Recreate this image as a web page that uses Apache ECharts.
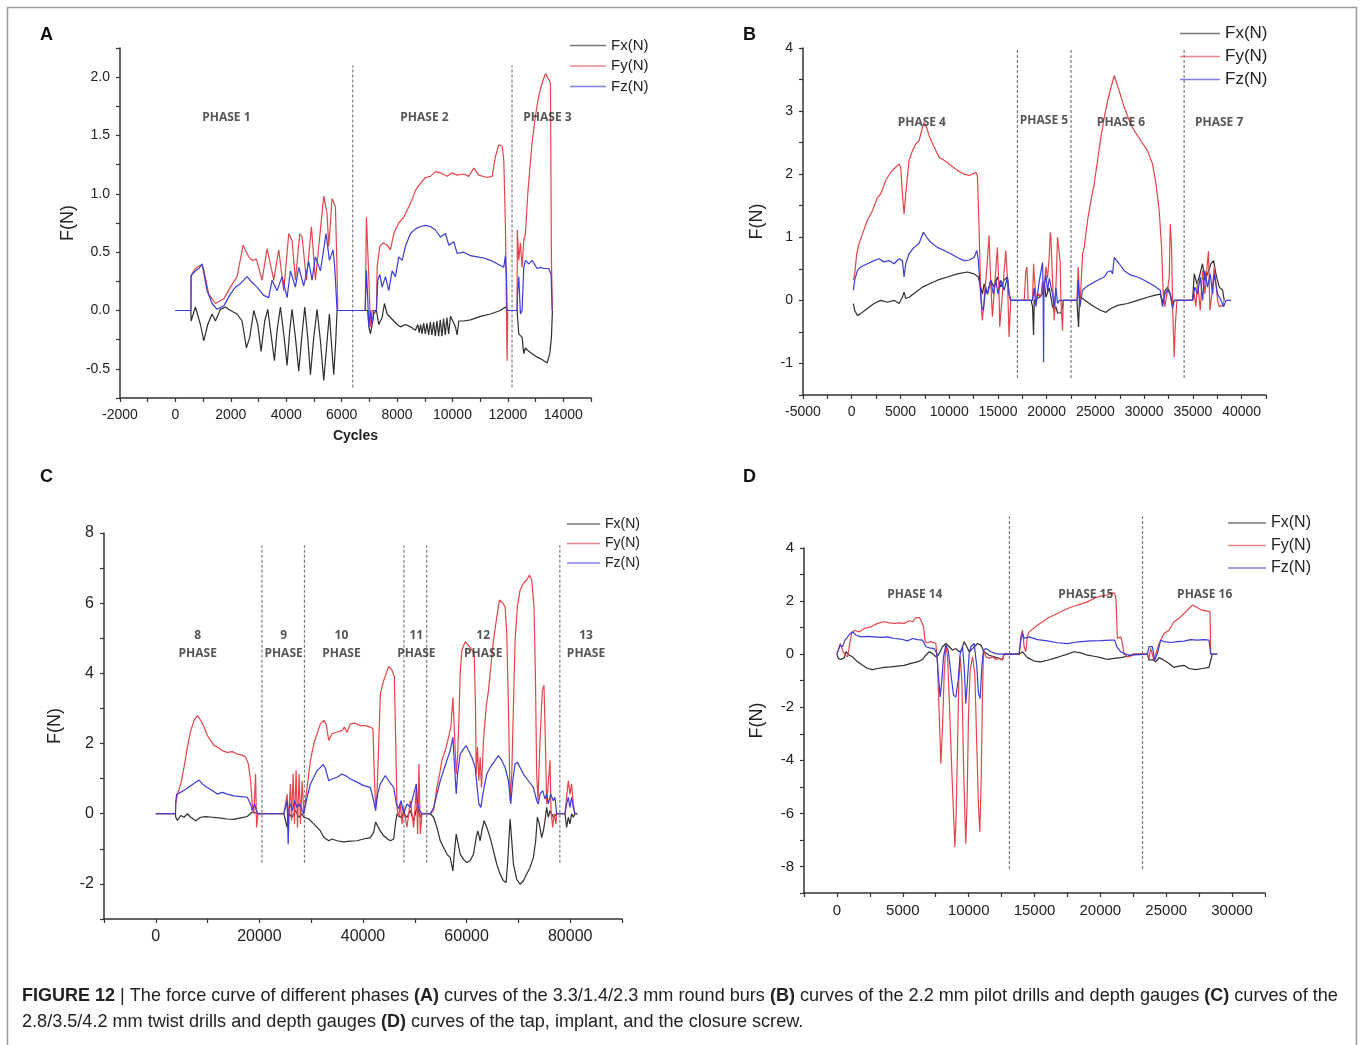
<!DOCTYPE html>
<html>
<head>
<meta charset="utf-8">
<script src="https://cdn.jsdelivr.net/npm/echarts@6/dist/echarts.min.js"></script>
<style>
  html, body { margin: 0; padding: 0; background: #fff; }
  #chart { width: 1360px; height: 1045px; }
</style>
</head>
<body>
<div id="chart"></div>
<script>
// ---- panel A : round burs ----
var aFx = [[0,0],[560,0],[566,-0.09],[722,0.03],[903,-0.12],[1023,-0.26],[1167,-0.12],[1324,-0.03],[1444,-0.09],[1625,0.01],[1805,0.03],[1985,0.0],[2226,-0.03],[2406,-0.09],[2563,-0.32],[2683,-0.23],[2828,0.0],[2972,-0.12],[3092,-0.35],[3224,-0.09],[3333,0.01],[3465,-0.23],[3574,-0.43],[3670,-0.17],[3790,0.03],[3910,-0.20],[4031,-0.47],[4127,-0.17],[4211,0.01],[4331,-0.23],[4452,-0.52],[4572,-0.20],[4668,0.03],[4776,-0.23],[4873,-0.55],[4993,-0.23],[5113,0.01],[5234,-0.26],[5354,-0.60],[5474,-0.26],[5558,-0.03],[5643,-0.32],[5715,-0.55],[5787,-0.26],[5835,0],
  [6943,0],[6980,-0.14],[7040,-0.20],[7100,-0.12],[7160,-0.03],[7256,0],[7340,-0.12],[7461,-0.06],[7545,0.06],[7641,-0.03],[7762,-0.06],[7882,-0.09],[8002,-0.12],[8122,-0.14],[8303,-0.12],[8483,-0.14],[8664,-0.17],[8750,-0.12],[8800,-0.19],[8850,-0.12],[8900,-0.20],[8960,-0.11],[9020,-0.20],[9080,-0.11],[9140,-0.21],[9200,-0.10],[9260,-0.21],[9320,-0.10],[9380,-0.22],[9440,-0.09],[9500,-0.22],[9560,-0.08],[9620,-0.22],[9680,-0.07],[9740,-0.21],[9800,-0.06],[9860,-0.20],[9930,-0.05],[9987,-0.06],[10107,-0.14],[10168,-0.21],[10228,-0.09],[10408,-0.09],[10649,-0.08],[11010,-0.05],[11371,-0.03],[11731,0],[11912,0.03],[11972,0.02],[12000,0],
  [12333,0],[12393,-0.20],[12513,-0.23],[12574,-0.37],[12634,-0.32],[12754,-0.35],[12874,-0.37],[13055,-0.40],[13235,-0.42],[13415,-0.45],[13512,-0.37],[13572,-0.23],[13608,0]];
var aFy = [[0,0],[560,0],[566,0.30],[722,0.36],[850,0.38],[963,0.39],[1023,0.35],[1203,0.14],[1444,0.06],[1745,0.10],[1985,0.20],[2226,0.29],[2443,0.56],[2647,0.46],[2767,0.43],[2924,0.44],[3128,0.26],[3309,0.53],[3549,0.26],[3730,0.52],[3910,0.17],[4091,0.66],[4211,0.60],[4331,0.26],[4488,0.66],[4572,0.63],[4728,0.26],[4909,0.72],[5053,0.26],[5354,0.98],[5474,0.83],[5534,0.55],[5656,0.96],[5775,0.89],[5835,0.34],[5859,0],
  [6850,0],[6895,0.80],[6980,0.29],[7040,-0.14],[7100,0],[7256,0],[7280,0.37],[7377,0.55],[7497,0.58],[7641,0.56],[7762,0.52],[7882,0.66],[8062,0.75],[8243,0.80],[8423,0.89],[8543,0.95],[8664,1.03],[8844,1.09],[9025,1.14],[9205,1.15],[9386,1.19],[9566,1.18],[9807,1.15],[9987,1.18],[10168,1.16],[10408,1.17],[10589,1.15],[10769,1.22],[10949,1.16],[11250,1.14],[11431,1.15],[11551,1.32],[11671,1.42],[11792,1.41],[11852,1.29],[11912,0.72],[11948,0],[11972,-0.43],[11996,0],
  [12333,0],[12340,0.69],[12393,0.43],[12453,0.58],[12513,0.37],[12574,0.60],[12634,0.66],[12718,1.0],[12790,1.21],[12874,1.44],[12995,1.67],[13115,1.84],[13235,1.95],[13355,2.03],[13476,1.98],[13536,1.95],[13572,0.43],[13608,0]];
var aFz = [[0,0],[560,0],[566,0.30],[722,0.34],[850,0.36],[963,0.40],[1143,0.17],[1324,0.06],[1504,0.01],[1745,0.04],[1985,0.14],[2166,0.20],[2346,0.23],[2587,0.29],[2767,0.24],[2948,0.20],[3188,0.13],[3369,0.11],[3489,0.26],[3670,0.17],[3850,0.29],[4031,0.11],[4151,0.34],[4331,0.20],[4452,0.37],[4632,0.21],[4812,0.42],[4933,0.26],[5053,0.46],[5234,0.34],[5438,0.66],[5558,0.43],[5690,0.52],[5751,0.37],[5835,0],
  [6850,0],[6895,0.34],[6943,0.09],[6980,-0.14],[7040,0],[7100,-0.12],[7160,0],[7256,0],[7304,0.26],[7377,0.31],[7461,0.20],[7581,0.29],[7701,0.17],[7822,0.34],[7942,0.29],[8062,0.46],[8183,0.43],[8303,0.55],[8483,0.66],[8664,0.70],[8844,0.72],[9025,0.73],[9205,0.72],[9386,0.69],[9566,0.63],[9746,0.66],[9867,0.56],[10047,0.59],[10168,0.49],[10408,0.50],[10649,0.47],[10889,0.46],[11130,0.45],[11371,0.43],[11611,0.40],[11852,0.37],[11912,0.47],[11948,0.31],[11972,0],
  [12333,0],[12345,0.14],[12393,0.29],[12453,-0.03],[12513,0],[12574,0.37],[12634,0.43],[12754,0.40],[12874,0.43],[13055,0.36],[13175,0.37],[13295,0.36],[13476,0.36],[13560,0.31],[13596,0]];
var aPhaseLines = [6400, 12150];
var aLineSpan = [-0.66, 2.1];
var aPhaseLabels = [[1841, 1.655, 'PHASE 1'], [8989, 1.655, 'PHASE 2'], [13429, 1.655, 'PHASE 3']];

// ---- panel B : pilot drills ----
var bFx = [[170,-0.05],[306,-0.16],[580,-0.24],[922,-0.21],[1606,-0.13],[2290,-0.05],[2974,0],[3658,-0.03],[4342,0],[4855,-0.05],[5197,0.05],[5368,0.13],[5539,0.03],[5881,0.05],[6565,0.13],[7249,0.21],[7933,0.26],[8788,0.32],[9814,0.37],[10840,0.42],[11866,0.45],[12550,0.42],[12995,0.37],[13234,0.21],[13405,0.10],[13576,0.26],[13918,0.10],[14260,0.32],[14602,0.21],[14944,0.37],[15286,0.21],[15628,0.32],[15970,0.37],[16141,0.10],[16312,0],
  [18400,0],[18551,-0.1],[18654,-0.55],[18722,0],[19235,0.05],[19577,0.1],[19748,0.3],[19919,0.05],[20261,0.2],[20603,-0.1],[20774,-0.15],[20945,-0.1],[21116,-0.2],[21458,-0.2],[21629,-0.1],[21700,0],[23100,0],
  [23271,-0.42],[23373,0.05],[23681,0.03],[24194,-0.03],[24878,-0.10],[25562,-0.16],[26075,-0.19],[26588,-0.13],[27272,-0.08],[28298,-0.05],[29324,0],[30350,0.05],[31034,0.08],[31650,0.10],[31889,-0.05],[32060,0.13],[32402,0.21],[32676,0.10],[32915,-0.08],[33086,0],[34967,0],
  [35138,0.42],[35412,0.26],[35651,0.37],[35993,0.58],[36232,0.32],[36506,0.42],[36848,0.58],[37122,0.63],[37361,0.42],[37703,0.21],[38045,0.16],[38216,0]];
var bFy = [[170,0.32],[306,0.42],[512,0.74],[751,0.90],[1093,1.05],[1606,1.27],[2119,1.42],[2632,1.63],[2974,1.69],[3487,1.90],[4000,2.03],[4513,2.11],[4855,2.16],[5026,2.11],[5197,1.69],[5368,1.37],[5539,1.69],[5881,2.22],[6223,2.37],[6565,2.48],[6907,2.53],[7249,2.74],[7420,2.82],[7694,2.74],[7933,2.61],[8446,2.43],[8959,2.27],[9472,2.22],[10156,2.14],[10840,2.06],[11524,2.0],[12037,1.98],[12379,2.0],[12721,2.03],[12892,1.98],[13063,1.16],[13234,0.10],[13405,-0.32],[13576,0],[13918,0.63],[14089,1.03],[14260,0.3],[14431,-0.26],[14602,0.1],[14944,0.84],[15100,0.2],[15183,-0.42],[15457,0.1],[15799,0.79],[15970,0.37],[16141,-0.58],[16312,0],
  [17696,0],[17850,0.45],[17970,0.53],[18106,0],[18551,0],[18654,0.58],[18722,0.4],[18893,0.05],[19235,0.1],[19406,0.05],[19577,0.3],[19680,0.1],[19919,0.53],[20090,0.35],[20261,0.7],[20364,1.08],[20432,1.0],[20603,0.3],[20774,-0.32],[20945,0.2],[21116,1.0],[21287,1.0],[21390,0.6],[21458,0],[21629,-0.48],[21700,0],[23100,0],
  [23236,0.53],[23407,-0.10],[23681,0.74],[23852,0.84],[24194,1.27],[24536,1.58],[24878,1.85],[25220,2.22],[25562,2.58],[25904,2.90],[26246,3.16],[26588,3.37],[26930,3.56],[27443,3.32],[27956,3.06],[28469,2.85],[28982,2.69],[29666,2.53],[30350,2.37],[30863,2.16],[31205,1.85],[31547,1.42],[31786,0.84],[31957,0.10],[32128,-0.10],[32334,0.10],[32573,0.37],[32676,1.21],[32812,0.84],[32915,-0.10],[33086,-0.90],[33189,-0.42],[33360,0],[34967,0],
  [35138,0.1],[35309,-0.10],[35480,0.32],[35754,-0.16],[35993,0.47],[36232,0.10],[36506,0.63],[36600,0.78],[36745,-0.16],[36951,0.10],[37190,0.53],[37532,0],[37703,-0.10],[38045,-0.08],[38216,0]];
var bFz = [[170,0.16],[306,0.32],[580,0.47],[922,0.53],[1606,0.58],[2290,0.63],[2803,0.66],[3316,0.61],[3829,0.63],[4342,0.58],[4855,0.66],[5197,0.63],[5368,0.37],[5539,0.58],[5881,0.74],[6394,0.84],[6907,0.90],[7352,1.08],[7694,1.0],[8104,0.92],[8788,0.84],[9472,0.79],[10156,0.74],[10840,0.68],[11524,0.63],[12037,0.64],[12550,0.68],[12824,0.79],[12995,0.63],[13166,0.21],[13337,-0.10],[13508,-0.16],[13747,0.21],[13918,0.10],[14260,0.32],[14534,0.10],[14773,0.32],[15012,0.10],[15286,0.32],[15628,0.16],[15970,0.37],[16141,0.10],[16312,0],
  [18551,0],[18722,0.2],[18893,-0.1],[19235,0.3],[19406,0.45],[19577,0.6],[19640,0.1],[19680,-0.98],[19720,0.2],[19919,0.4],[20090,0.15],[20261,0.35],[20603,0.1],[20774,-0.1],[20945,0.2],[21116,-0.05],[21300,0],[23100,0],
  [23168,0.05],[23236,0.32],[23407,-0.10],[23681,0.16],[24023,0.21],[24536,0.26],[25220,0.32],[25904,0.37],[26246,0.45],[26588,0.47],[26759,0.42],[26930,0.68],[27443,0.58],[27956,0.47],[28640,0.40],[29324,0.37],[30008,0.32],[30692,0.26],[31205,0.21],[31650,0.16],[31889,-0.10],[32128,0.10],[32402,0.16],[32676,0.10],[32915,-0.13],[33086,0],[34967,0],
  [35206,0.21],[35480,0.10],[35754,0.37],[35993,0],[36232,0.47],[36506,0.21],[36779,0.42],[37019,0.10],[37190,0.42],[37532,0.10],[37874,0],[38148,-0.10],[38400,0],[38900,0]];
var bPhaseLines = [17000, 22500, 34100];
var bLineSpan = [-1.23, 4.0];
var bPhaseLabels = [[7189, 2.82, 'PHASE 4'], [19718, 2.85, 'PHASE 5'], [27626, 2.82, 'PHASE 6'], [37691, 2.82, 'PHASE 7']];

// ---- panel C : twist drills ----
var cFx = [[0,0],[3800,0],[3852,-0.1],[4173,-0.19],[4815,-0.05],[5457,-0.1],[6099,0],[6741,-0.1],[7704,-0.2],[8667,-0.1],[9630,-0.08],[10914,-0.1],[12198,-0.12],[13803,-0.15],[15087,-0.16],[16371,-0.12],[17655,-0.08],[18618,0.05],[19710,0],
  [24717,0],[25359,-0.39],[25680,0],[26322,-0.1],[26964,0.09],[27606,-0.1],[28248,0],[28569,-0.1],[28890,-0.1],[29532,-0.15],[30495,-0.29],[31137,-0.39],[31779,-0.49],[32421,-0.67],[32742,-0.63],[33384,-0.77],[34026,-0.72],[34989,-0.77],[36273,-0.8],[37557,-0.78],[38841,-0.77],[40125,-0.72],[41409,-0.68],[42051,-0.53],[42435,-0.24],[42821,-0.29],[43335,-0.49],[44000,-0.63],[44748,-0.72],[45284,-0.77],[45926,-0.72],[46247,-0.3],[46568,0],[47210,-0.1],[47852,0],[48494,-0.1],[49136,0.09],[49778,-0.2],[50420,0.2],[51062,-0.1],[51383,0],[52988,0],
  [53630,-0.1],[54272,-0.39],[54914,-0.77],[55556,-0.96],[56198,-1.15],[56840,-1.25],[57354,-1.63],[57610,-1.15],[57996,-0.58],[58252,-0.77],[58766,-1.15],[59408,-1.30],[60050,-1.39],[60692,-1.34],[61334,-1.15],[61848,-0.68],[62169,-0.49],[62618,-0.77],[62939,-0.49],[63388,-0.2],[63902,-0.39],[64544,-0.68],[65186,-1.06],[65828,-1.44],[66470,-1.72],[67112,-1.91],[67626,-1.96],[67947,-1.34],[68396,-0.15],[68717,-0.77],[69038,-1.44],[69680,-1.87],[70322,-2.01],[70964,-1.91],[71606,-1.72],[72248,-1.53],[72890,-1.25],[73339,-0.77],[73660,-0.1],[74046,-0.29],[74495,-0.68],[74816,-0.49],[75137,-0.2],[75458,0.18],[75779,-0.1],[76100,0.09],[76742,-0.1],[77384,0],[78989,0],
  [79310,-0.39],[79631,-0.1],[79952,-0.29],[80273,0],[80594,-0.1],[80915,0],[81400,0]];
var cFy = [[0,0],[3800,0],[3852,0.28],[4173,0.56],[4815,0.85],[5457,1.33],[6099,1.90],[6741,2.37],[7383,2.66],[8025,2.80],[8667,2.66],[9309,2.47],[9951,2.23],[10593,2.09],[11235,1.94],[11877,1.90],[12840,1.80],[13803,1.75],[14766,1.77],[15729,1.70],[16692,1.67],[17334,1.61],[17848,1.43],[18297,0.95],[18618,0.28],[18939,0],[19260,1.14],[19453,-0.39],[19710,0],
  [24717,0],[25038,0],[25359,0.56],[25552,-0.29],[26001,0.85],[26193,-0.2],[26514,1.14],[26771,-0.29],[27092,1.24],[27349,-0.39],[27670,1.13],[27927,-0.29],[28248,0.94],[28569,0],[28890,0],[29211,0.75],[29853,1.52],[30495,1.99],[31137,2.28],[31779,2.56],[32421,2.66],[32870,2.56],[33384,2.09],[34026,2.28],[34989,2.33],[35952,2.37],[36401,2.47],[36915,2.32],[37557,2.56],[38520,2.58],[39483,2.51],[40446,2.51],[41409,2.47],[41923,2.42],[42179,1.13],[42435,0.18],[42693,0.56],[43014,1.90],[43358,3.42],[44000,3.80],[44963,4.20],[45605,4.09],[46054,3.90],[46311,2.09],[46568,0.18],[46889,-0.1],[47210,0.28],[47531,-0.29],[47852,0.18],[48494,-0.39],[49136,0.37],[49778,-0.39],[50292,0.75],[50548,-0.58],[50805,1.42],[51062,-0.58],[51383,0],[52988,0],
  [53630,0.09],[54272,0.75],[54786,1.13],[55235,1.52],[55877,1.80],[56519,2.18],[56968,2.47],[57354,3.32],[57610,2.47],[57996,1.13],[58252,1.61],[58509,2.66],[58766,4.0],[59087,4.66],[59729,4.9],[60371,4.8],[61013,4.66],[61462,4.56],[61719,3.04],[61848,1.13],[62104,1.90],[62361,0.94],[62618,1.61],[62875,0.75],[63260,2.09],[63774,3.04],[64223,3.51],[64672,4.18],[65186,4.94],[65828,5.61],[66342,6.09],[66984,6.0],[67433,5.9],[67754,5.13],[68075,3.04],[68396,0.37],[68717,1.13],[69038,3.04],[69359,4.94],[69808,5.9],[70322,6.37],[70964,6.56],[71606,6.66],[72120,6.8],[72569,6.66],[73018,5.9],[73275,4.0],[73532,1.13],[73789,0.37],[74174,2.09],[74623,3.51],[74944,3.66],[75201,2.09],[75458,0.28],[75779,0.28],[76100,1.52],[76292,0.09],[76614,-0.39],[76870,0],[77254,-0.29],[77384,0],[78989,0],
  [79310,0.47],[79631,0.94],[79952,0.56],[80273,0.85],[80594,0.28],[80915,0],[81400,0]];
var cFz = [[0,0],[3800,0],[3852,0.37],[4045,0.56],[4815,0.61],[5778,0.70],[6741,0.80],[7704,0.90],[8346,0.96],[8988,0.85],[9951,0.75],[10914,0.66],[11877,0.56],[12840,0.61],[13803,0.56],[15087,0.51],[16371,0.49],[17655,0.47],[18297,0.28],[18618,0.09],[19067,0.28],[19453,0.09],[19710,0],
  [24717,0],[25038,0],[25359,0.37],[25552,-0.87],[25744,0.18],[26001,0.28],[26386,0.09],[26771,0.37],[27285,0.18],[27799,0.28],[28248,0.09],[28569,0],[28890,0],[29211,0.47],[29853,0.85],[30495,1.04],[31137,1.23],[31779,1.32],[32293,1.40],[32742,1.29],[33384,0.94],[34026,0.99],[34989,1.04],[35952,1.13],[36594,1.09],[37557,0.99],[38841,0.90],[40125,0.80],[41409,0.75],[42051,0.37],[42435,0.09],[42821,0.56],[43335,0.85],[44321,1.09],[44963,0.94],[45926,0.75],[46440,0.28],[46889,0.14],[47338,0.37],[47852,0],[48494,0.28],[49136,0.18],[49778,0.56],[50292,0.85],[50548,0.28],[50934,0.09],[51383,0],[52988,0],
  [53630,0.18],[54272,0.56],[54914,0.94],[55556,1.23],[56198,1.52],[56840,1.80],[57354,2.18],[57610,1.52],[57996,0.56],[58252,1.13],[58766,1.70],[59408,1.85],[59922,1.94],[60371,1.80],[61013,1.61],[61655,1.32],[61976,0.85],[62361,0.28],[62746,0.18],[63260,0.66],[63902,1.13],[64544,1.32],[65507,1.52],[66149,1.66],[66791,1.52],[67433,1.32],[68075,0.94],[68524,0.28],[68910,0.94],[69359,1.42],[69808,1.47],[70322,1.32],[70964,1.13],[71927,0.94],[72890,0.75],[73532,0.37],[73853,0.28],[74174,0.56],[74688,0.66],[75137,0.42],[75458,0.56],[75779,0.28],[76228,0.56],[76742,0.37],[77063,0.47],[77384,0],[78989,0],
  [79310,0.28],[79631,0.47],[79952,0.18],[80273,0.47],[80594,0.18],[80915,0],[81400,0]];
var cPhaseLines = [20500, 28700, 47900, 52300, 78000];
var cLineSpan = [-1.4, 7.65];
var cPhaseLabels = [[8093, 4.83, '8\nPHASE'], [24666, 4.83, '9\nPHASE'], [35842, 4.83, '10\nPHASE'], [50295, 4.83, '11\nPHASE'], [63206, 4.83, '12\nPHASE'], [83054, 4.83, '13\nPHASE']];

// ---- panel D : tap, implant, closure screw ----
var dFx = [[0,0],[101,-0.16],[304,-0.20],[557,-0.13],[683,0.09],[936,-0.04],[1189,-0.10],[1568,-0.29],[1948,-0.42],[2327,-0.54],[2706,-0.58],[3086,-0.54],[3591,-0.50],[4097,-0.48],[4603,-0.45],[5109,-0.42],[5615,-0.35],[6120,-0.29],[6500,-0.20],[6753,-0.04],[7006,0.09],[7258,0.02],[7511,-0.10],[7688,-0.04],[8017,0.28],[8270,0.40],[8523,0.28],[8776,0.15],[9029,0.21],[9282,0.09],[9458,0.15],[9661,0.47],[9863,0.28],[10040,0.09],[10293,0.21],[10673,0.40],[10926,0.34],[11178,0.09],[11558,-0.04],[11937,-0.10],[12316,-0.16],[12569,-0.20],[12696,0],[13834,0],
  [14087,0.09],[14466,-0.13],[14972,-0.26],[15478,-0.29],[15984,-0.23],[16488,-0.16],[16995,-0.08],[17501,0],[18007,0.09],[18513,0.05],[19018,-0.04],[19524,-0.08],[20030,-0.13],[20536,-0.20],[21042,-0.16],[21548,-0.13],[22053,-0.08],[22306,-0.04],[22500,0],[23571,0],
  [23697,-0.23],[23950,-0.20],[24203,-0.29],[24456,-0.13],[24835,-0.23],[25214,-0.35],[25594,-0.50],[25973,-0.45],[26352,-0.42],[26732,-0.54],[27238,-0.58],[27743,-0.54],[28249,-0.50],[28376,-0.23],[28500,0]];
var dFy = [[0,0],[51,0],[101,0.02],[253,0.40],[430,0.15],[607,-0.04],[810,-0.10],[936,0.28],[1113,0.78],[1315,0.90],[1695,0.84],[2074,0.97],[2580,1.03],[3086,1.16],[3591,1.22],[3971,1.18],[4350,1.16],[4729,1.18],[5109,1.16],[5488,1.26],[5741,1.22],[5994,1.38],[6247,1.38],[6373,1.28],[6576,1.03],[6702,0.47],[6879,0.43],[7132,0.47],[7511,0.40],[7638,-0.35],[7764,-2.24],[7891,-4.13],[8017,-2.74],[8144,-0.73],[8270,0.34],[8397,-0.10],[8523,-1.61],[8700,-4.13],[8852,-6.01],[8953,-7.27],[9054,-6.01],[9155,-3.50],[9256,-0.98],[9357,-0.10],[9484,-0.98],[9610,-4.13],[9711,-6.01],[9787,-7.14],[9888,-5.38],[9990,-2.24],[10116,-0.60],[10293,-0.10],[10470,-0.73],[10622,-3.50],[10748,-5.76],[10849,-6.70],[10951,-4.76],[11052,-1.48],[11128,0.15],[11305,-0.10],[11558,-0.16],[11811,-0.10],[12064,-0.20],[12316,-0.16],[12569,-0.23],[12696,0],[13834,0],
  [13960,0.65],[14087,0.90],[14213,0.28],[14340,0.09],[14466,0.70],[14593,0.84],[15225,1.09],[15984,1.35],[16742,1.53],[17501,1.72],[18260,1.85],[19018,1.97],[19524,2.10],[20030,2.19],[20536,2.23],[20915,2.31],[21092,2.29],[21193,2.04],[21294,0.59],[21548,0.65],[21674,0.40],[21800,0],[22053,-0.10],[22306,-0.08],[22500,0],[23571,0],
  [23697,-0.16],[23824,0.21],[24077,-0.23],[24203,0],[24456,0.40],[24835,0.78],[25214,0.90],[25594,1.22],[25973,1.35],[26352,1.53],[26732,1.72],[26985,1.85],[27238,1.79],[27617,1.68],[27996,1.63],[28325,1.60],[28376,0],[28880,0]];
var dFz = [[0,0],[101,0],[253,0.34],[430,0.28],[607,0.53],[810,0.65],[1012,0.78],[1189,0.84],[1442,0.72],[1821,0.65],[2327,0.67],[2833,0.65],[3339,0.63],[3844,0.65],[4350,0.59],[4856,0.57],[5362,0.50],[5741,0.59],[6120,0.55],[6500,0.53],[6753,0.28],[7006,0.24],[7385,0.21],[7587,0.02],[7688,-0.73],[7840,-1.61],[7967,-0.98],[8093,-0.10],[8270,0.34],[8447,0.15],[8649,-0.73],[8852,-1.55],[9029,-1.61],[9206,-0.98],[9357,0.02],[9534,0.28],[9661,-0.48],[9787,-1.86],[9914,-0.98],[10040,0.02],[10167,0.28],[10420,0.40],[10622,-0.48],[10748,-1.48],[10875,-1.67],[11001,-0.48],[11128,0.15],[11305,0.21],[11684,0.09],[12064,0.02],[12316,0],[13834,0],
  [13960,0.53],[14087,0.78],[14213,0.59],[14593,0.65],[15225,0.55],[15984,0.50],[16742,0.43],[17501,0.40],[18007,0.44],[18513,0.47],[19271,0.50],[20030,0.51],[20789,0.53],[21092,0.53],[21244,0.28],[21548,0.09],[21927,0],[22306,-0.04],[23571,0],
  [23697,0.28],[23950,0.28],[24127,-0.23],[24329,0.02],[24582,0.53],[24835,0.47],[25341,0.44],[25847,0.47],[26352,0.49],[26858,0.55],[27364,0.53],[27870,0.55],[28249,0.53],[28376,0],[28880,0]];
var dPhaseLines = [13100, 23200];
var dLineSpan = [-8.1, 5.2];
var dPhaseLabels = [[5918, 2.26, 'PHASE 14'], [18892, 2.26, 'PHASE 15'], [27920, 2.26, 'PHASE 16']];

var seriesNames = ['Fx(N)', 'Fy(N)', 'Fz(N)'];
var seriesColors = ['#2e2e2e', '#e4454b', '#3b3bd9'];
var FONT = 'Liberation Sans, Arial, sans-serif';

var myChart = echarts.init(document.getElementById('chart'), null, { renderer: 'canvas' });

// axis helpers
function isStep(v, step) {
  var r = v / step;
  return Math.abs(r - Math.round(r)) < 1e-6;
}
function xAxisOf(gi, min, max, step, labelStep, fontSize, name) {
  return {
    type: 'value', gridIndex: gi, min: min, max: max, interval: step,
    name: name || '', nameLocation: 'middle', nameGap: 31,
    nameTextStyle: { fontFamily: FONT, fontSize: 14, color: '#222', fontWeight: 'bold' },
    axisLine: { onZero: false, lineStyle: { color: '#333', width: 1.5 } },
    axisTick: { length: 4, lineStyle: { color: '#333', width: 1.2 } },
    axisLabel: {
      margin: 10, fontFamily: FONT, fontSize: fontSize, color: '#222',
      formatter: function (v) { return isStep(v, labelStep) ? String(Math.round(v)) : ''; }
    },
    splitLine: { show: false }
  };
}
function yAxisOf(gi, min, max, step, labelStep, fontSize, nameGap, decimals) {
  return {
    type: 'value', gridIndex: gi, min: min, max: max, interval: step,
    name: 'F(N)', nameLocation: 'middle', nameGap: nameGap,
    nameTextStyle: { fontFamily: FONT, fontSize: 18, color: '#222' },
    axisLine: { onZero: false, lineStyle: { color: '#333', width: 1.5 } },
    axisTick: { length: 4, lineStyle: { color: '#333', width: 1.2 } },
    axisLabel: {
      margin: 10, fontFamily: FONT, fontSize: fontSize, color: '#222',
      formatter: function (v) { return isStep(v, labelStep) ? v.toFixed(decimals) : ''; }
    },
    splitLine: { show: false }
  };
}

var series = [];
function addPanel(gi, curves, phaseLines, span, phaseLabels, labelLineHeight) {
  curves.forEach(function (d, k) {
    series.push({
      name: seriesNames[k], type: 'line', xAxisIndex: gi, yAxisIndex: gi,
      data: d, symbol: 'none', showSymbol: false, animation: false,
      lineStyle: { color: seriesColors[k], width: 1.2 },
      itemStyle: { color: seriesColors[k] }, z: 3 + k
    });
  });
  phaseLines.forEach(function (x) {
    series.push({
      name: 'phase-line', type: 'line', xAxisIndex: gi, yAxisIndex: gi,
      data: [[x, span[0]], [x, span[1]]], symbol: 'none', clip: false,
      animation: false, silent: true,
      lineStyle: { color: '#7a7a7a', width: 1.2, type: [3, 2] }, z: 2
    });
  });
  series.push({
    name: 'phase-label', type: 'scatter', xAxisIndex: gi, yAxisIndex: gi,
    data: phaseLabels, symbolSize: 1, silent: true, animation: false, clip: false,
    itemStyle: { color: 'rgba(0,0,0,0)' },
    label: {
      show: true, position: 'inside',
      formatter: function (p) { return p.value[2]; },
      fontFamily: 'Open Sans, Liberation Sans, sans-serif', fontSize: 12, fontWeight: 'bold',
      color: '#2a2a2a', lineHeight: labelLineHeight || 14, align: 'center'
    },
    z: 10
  });
}
addPanel(0, [aFx, aFy, aFz], aPhaseLines, aLineSpan, aPhaseLabels);
addPanel(1, [bFx, bFy, bFz], bPhaseLines, bLineSpan, bPhaseLabels);
addPanel(2, [cFx, cFy, cFz], cPhaseLines, cLineSpan, cPhaseLabels, 18);
addPanel(3, [dFx, dFy, dFz], dPhaseLines, dLineSpan, dPhaseLabels);

// legend: thin line icons, no padding so top = first row centre - font/2
function legendOf(left, top, iw, gap, fs) {
  return {
    data: seriesNames, orient: 'vertical', left: left, top: top, padding: 0,
    icon: 'rect', itemWidth: iw, itemHeight: 1.6, itemGap: gap,
    itemStyle: { opacity: 0.65 },
    textStyle: { fontFamily: FONT, fontSize: fs, color: '#222' }
  };
}

function letter(t, x, y) {
  return { type: 'text', left: x, top: y, style: { text: t, fontFamily: FONT, fontSize: 18, fontWeight: 'bold', fill: '#111' } };
}
var capRich = { b: { fontFamily: FONT, fontSize: 18, fontWeight: 'bold', fill: '#222' } };

var option = {
  backgroundColor: '#fff',
  animation: false,
  grid: [
    { left: 120, top: 48, width: 471, height: 350 },
    { left: 803, top: 48, width: 463, height: 347 },
    { left: 104, top: 533, width: 518, height: 386 },
    { left: 804, top: 548, width: 461, height: 345 }
  ],
  xAxis: [
    xAxisOf(0, -2000, 15000, 1000, 2000, 14, 'Cycles'),
    xAxisOf(1, -5000, 42500, 2500, 5000, 14),
    xAxisOf(2, -10000, 90000, 10000, 20000, 16),
    xAxisOf(3, -2500, 32500, 2500, 5000, 15)
  ],
  yAxis: [
    yAxisOf(0, -0.75, 2.25, 0.25, 0.5, 14, 43, 1),
    yAxisOf(1, -1.5, 4, 0.5, 1, 14, 37, 0),
    yAxisOf(2, -3, 8, 1, 2, 16, 40, 0),
    yAxisOf(3, -9, 4, 1, 2, 15, 38, 0)
  ],
  legend: [
    legendOf(570, 38, 36, 5.5, 15),
    legendOf(1180, 25, 40, 6, 17),
    legendOf(567, 517, 33, 5.5, 14),
    legendOf(1228, 515, 38, 6.5, 16)
  ],
  graphic: [
    { type: 'rect', shape: { x: 7.5, y: 7.5, width: 1349, height: 1050 }, style: { fill: 'none', stroke: '#9a9a9a', lineWidth: 1.5 }, silent: true },
    letter('A', 40, 26), letter('B', 743, 26), letter('C', 40, 468), letter('D', 743, 468),
    { type: 'text', left: 22, top: 987, style: {
      text: '{b|FIGURE 12} | The force curve of different phases {b|(A)} curves of the 3.3/1.4/2.3 mm round burs {b|(B)} curves of the 2.2 mm pilot drills and depth gauges {b|(C)} curves of the',
      fontFamily: FONT, fontSize: 18.1, fill: '#222', rich: capRich } },
    { type: 'text', left: 22, top: 1013, style: {
      text: '2.8/3.5/4.2 mm twist drills and depth gauges {b|(D)} curves of the tap, implant, and the closure screw.',
      fontFamily: FONT, fontSize: 18.1, fill: '#222', rich: capRich } }
  ],
  series: series
};

myChart.setOption(option);
</script>
</body>
</html>
